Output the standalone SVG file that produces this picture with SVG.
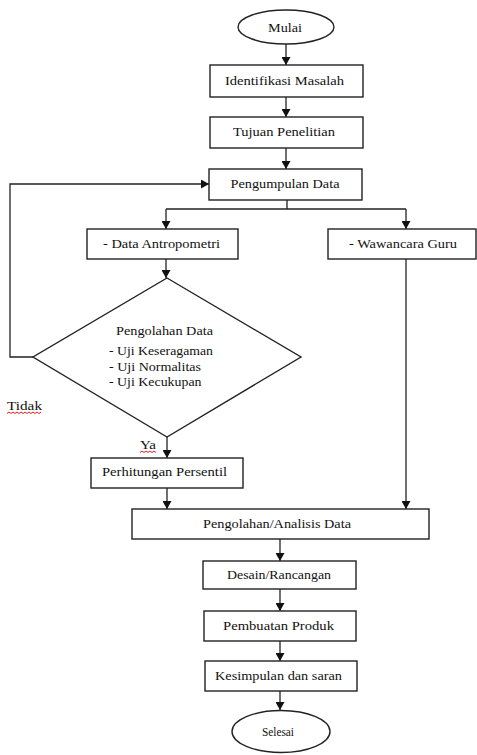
<svg xmlns="http://www.w3.org/2000/svg" width="477" height="755" viewBox="0 0 477 755">
<style>
.box{fill:#fff;stroke:#222;stroke-width:1.4}
text{font-family:"Liberation Serif","Times New Roman","DejaVu Serif",serif;font-size:13.5px;fill:#111}
.c{fill:none;stroke:#222;stroke-width:1.3}
.sq{fill:none;stroke:#e02020;stroke-width:1}
</style>
<defs>
<marker id="ah" markerUnits="userSpaceOnUse" markerWidth="8" markerHeight="9" refX="8" refY="4.5" orient="auto" viewBox="0 0 8 9">
<path d="M0,0 L8,4.5 L0,9 z" fill="#111"/>
</marker>
</defs>
<rect width="477" height="755" fill="#fff"/>
<g id="connectors">
<path class="c" d="M286,44 V65" marker-end="url(#ah)"/>
<path class="c" d="M286,97 V117" marker-end="url(#ah)"/>
<path class="c" d="M286,148 V169" marker-end="url(#ah)"/>
<path class="c" d="M287,200 V209 M166,209 H406"/>
<path class="c" d="M166,209 V229" marker-end="url(#ah)"/>
<path class="c" d="M406,209 V229" marker-end="url(#ah)"/>
<path class="c" d="M166,259 V278" marker-end="url(#ah)"/>
<path class="c" d="M33,357 H10 V184 H209" marker-end="url(#ah)"/>
<path class="c" d="M167,437 V458" marker-end="url(#ah)"/>
<path class="c" d="M167,488 V509" marker-end="url(#ah)"/>
<path class="c" d="M406,259 V509" marker-end="url(#ah)"/>
<path class="c" d="M280,539 V561" marker-end="url(#ah)"/>
<path class="c" d="M280,589 V611" marker-end="url(#ah)"/>
<path class="c" d="M280,641 V661" marker-end="url(#ah)"/>
<path class="c" d="M280,691 V710" marker-end="url(#ah)"/>
</g>
<g id="mulai">
<ellipse class="box" cx="286" cy="27" rx="48" ry="17"/>
<text x="268" y="32" textLength="34" lengthAdjust="spacingAndGlyphs">Mulai</text>
</g>
<g id="identifikasi">
<rect class="box" x="210" y="65" width="153" height="32"/>
<text x="225" y="85" textLength="119" lengthAdjust="spacingAndGlyphs">Identifikasi Masalah</text>
</g>
<g id="tujuan">
<rect class="box" x="210" y="117" width="153" height="31"/>
<text x="233" y="136" textLength="102" lengthAdjust="spacingAndGlyphs">Tujuan Penelitian</text>
</g>
<g id="pengumpulan">
<rect class="box" x="209" y="169" width="153" height="31"/>
<text x="230.5" y="188" textLength="109" lengthAdjust="spacingAndGlyphs">Pengumpulan Data</text>
</g>
<g id="antropometri">
<rect class="box" x="87" y="229" width="151" height="30"/>
<text x="103" y="248" textLength="117" lengthAdjust="spacingAndGlyphs">- Data Antropometri</text>
</g>
<g id="wawancara">
<rect class="box" x="328" y="229" width="148" height="30"/>
<text x="349" y="248" textLength="108" lengthAdjust="spacingAndGlyphs">- Wawancara Guru</text>
</g>
<g id="pengolahan">
<polygon class="box" points="167,278 301,357 167,437 33,357"/>
<text x="116" y="335" textLength="97" lengthAdjust="spacingAndGlyphs">Pengolahan Data</text>
<text x="109" y="355" textLength="104" lengthAdjust="spacingAndGlyphs">- Uji Keseragaman</text>
<text x="109" y="371" textLength="92" lengthAdjust="spacingAndGlyphs">- Uji Normalitas</text>
<text x="109" y="386" textLength="92.5" lengthAdjust="spacingAndGlyphs">- Uji Kecukupan</text>
</g>
<g id="label-tidak">
<text x="7" y="410" textLength="35" lengthAdjust="spacingAndGlyphs">Tidak</text>
<path class="sq" d="M7,413.5 l2,-1.5 l2,1.5 l2,-1.5 l2,1.5 l2,-1.5 l2,1.5 l2,-1.5 l2,1.5 l2,-1.5 l2,1.5 l2,-1.5 l2,1.5 l2,-1.5 l2,1.5 l2,-1.5 l2,1.5 l2,-1.5"/>
</g>
<g id="label-ya">
<text x="140" y="449" textLength="16" lengthAdjust="spacingAndGlyphs">Ya</text>
<path class="sq" d="M140,452.5 l2,-1.5 l2,1.5 l2,-1.5 l2,1.5 l2,-1.5 l2,1.5 l2,-1.5 l2,1.5"/>
</g>
<g id="perhitungan">
<rect class="box" x="91" y="458" width="152" height="30"/>
<text x="102" y="476" textLength="125" lengthAdjust="spacingAndGlyphs">Perhitungan Persentil</text>
</g>
<g id="analisis">
<rect class="box" x="132" y="509" width="297" height="30"/>
<text x="203" y="528" textLength="148" lengthAdjust="spacingAndGlyphs">Pengolahan/Analisis Data</text>
</g>
<g id="desain">
<rect class="box" x="203" y="561" width="153" height="28"/>
<text x="227" y="579" textLength="104" lengthAdjust="spacingAndGlyphs">Desain/Rancangan</text>
</g>
<g id="pembuatan">
<rect class="box" x="204" y="611" width="152" height="30"/>
<text x="223" y="630" textLength="111" lengthAdjust="spacingAndGlyphs">Pembuatan Produk</text>
</g>
<g id="kesimpulan">
<rect class="box" x="205" y="661" width="152" height="30"/>
<text x="215" y="680" textLength="127" lengthAdjust="spacingAndGlyphs">Kesimpulan dan saran</text>
</g>
<g id="selesai">
<ellipse class="box" cx="281" cy="731.5" rx="49" ry="21"/>
<text x="262" y="736" textLength="32" lengthAdjust="spacingAndGlyphs">Selesai</text>
</g>
</svg>
